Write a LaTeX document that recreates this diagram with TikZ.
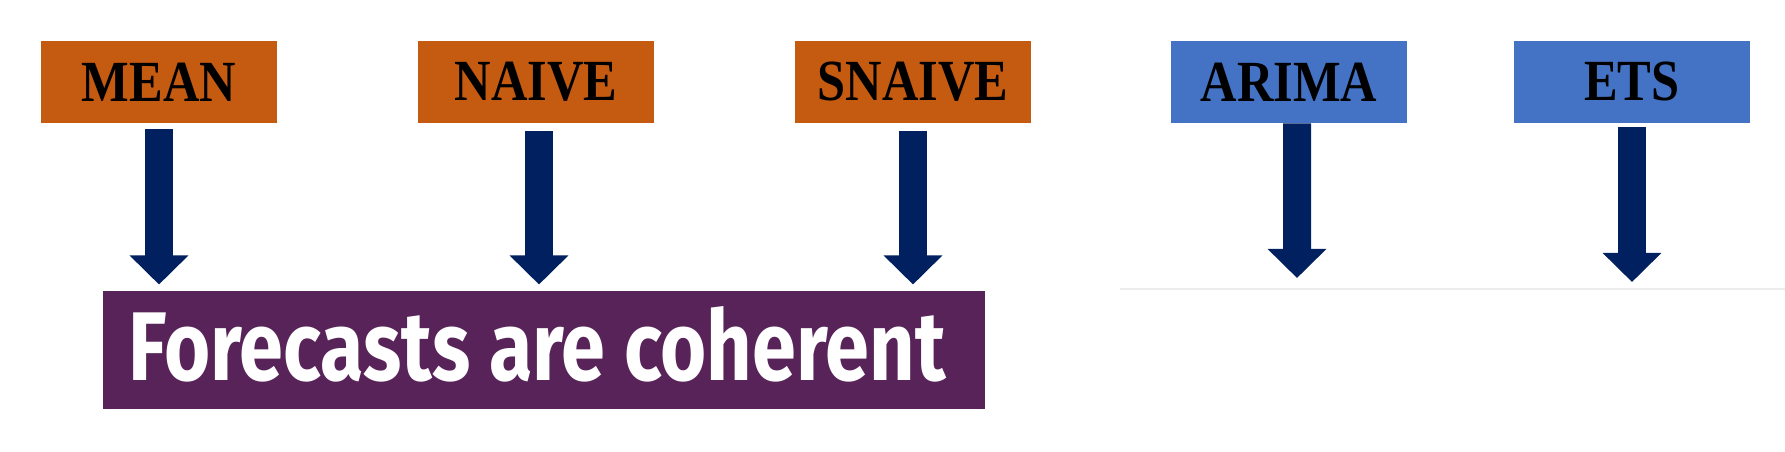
\documentclass[tikz,border=0pt]{standalone}
\usepackage{fontspec}
\setmainfont{Liberation Serif}
\newfontfamily\firafont{Fira Sans}
\usetikzlibrary{arrows.meta}
\definecolor{boxorange}{HTML}{C55A11}
\definecolor{boxblue}{HTML}{4472C4}
\definecolor{arrownavy}{HTML}{002060}
\definecolor{cohpurple}{HTML}{582359}
\newcommand{\tallcap}[1]{\scalebox{0.97}[1.12]{#1}}
\begin{document}
\begin{tikzpicture}[x=0.4pt,y=-0.4pt,
  model/.style={minimum width=94.4pt, minimum height=32.8pt, inner sep=0pt,
    font=\fontsize{20.8pt}{22pt}\selectfont\bfseries, text=black},
  naivebox/.style={model, fill=boxorange},
  statbox/.style={model, fill=boxblue},
  bigarrow/.style={draw=arrownavy, line width=11.2pt,
    -{Triangle[width=22.8pt,length=11.6pt]}},
  cohbox/.style={fill=cohpurple, minimum width=352.8pt, minimum height=47.2pt, inner sep=0pt},
  cohtext/.style={inner sep=0pt, text=white, anchor=base}
]
\useasboundingbox (0,0) rectangle (1785,452);
\node[naivebox] (mean) at (159,82) {\tallcap{MEAN}};
\node[naivebox] (naive) at (536,82) {\tallcap{NAIVE}};
\node[naivebox] (snaive) at (913,82) {\tallcap{SNAIVE}};
\node[statbox] (arima) at (1289,82) {\tallcap{ARIMA}};
\node[statbox] (ets) at (1632,82) {\tallcap{ETS}};
\node[cohbox] (coh) at (544,350) {};
\node[cohtext] (cohlabel) at (537,380)
  {\resizebox{326.8pt}{29.6pt}{\firafont\bfseries Forecasts are coherent}};
\coordinate (arimatip) at (1297,278);
\coordinate (etstip) at (1632,282);
\draw[bigarrow, shorten >=2.4pt] ([yshift=-2.4pt]mean.south) -- (mean.south |- coh.north);
\draw[bigarrow, shorten >=2.4pt] ([xshift=1.2pt,yshift=-3.2pt]naive.south) -- ([xshift=1.2pt]naive.south |- coh.north);
\draw[bigarrow, shorten >=2.4pt] ([yshift=-3.2pt]snaive.south) -- (snaive.south |- coh.north);
\draw[bigarrow] ([xshift=3.2pt]arima.south) -- (arimatip);
\draw[bigarrow] ([yshift=-1.6pt]ets.south) -- (etstip);
\draw[black!7, line width=0.8pt] (1120,289) -- (1785,289);
\end{tikzpicture}
\end{document}
